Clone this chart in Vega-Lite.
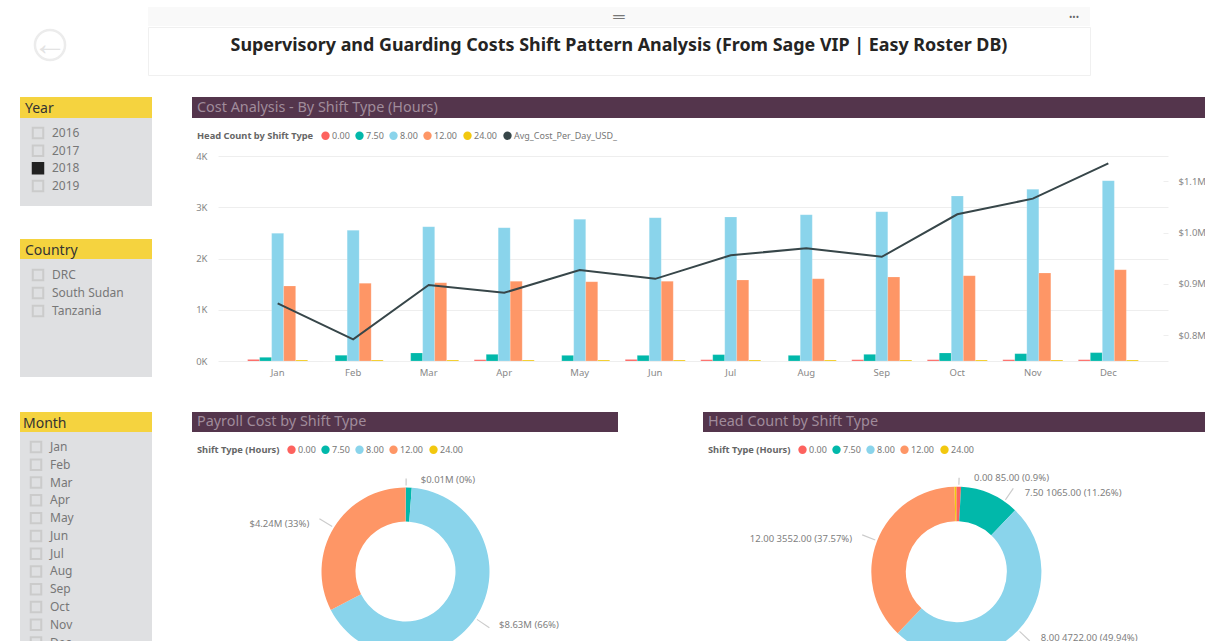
{
"$schema":"https://vega.github.io/schema/vega-lite/v6.json",
"padding":0,
"background":"#ffffff",
"config":{"view":{"stroke":null},"font":"Noto Sans","text":{"font":"Noto Sans"}},
"datasets":{
"heads":[
{"month":"Jan","shift":"0.00","count":30},{"month":"Jan","shift":"7.50","count":72},{"month":"Jan","shift":"8.00","count":2491},{"month":"Jan","shift":"12.00","count":1463},{"month":"Jan","shift":"24.00","count":20},
{"month":"Feb","shift":"0.00","count":0},{"month":"Feb","shift":"7.50","count":110},{"month":"Feb","shift":"8.00","count":2550},{"month":"Feb","shift":"12.00","count":1515},{"month":"Feb","shift":"24.00","count":20},
{"month":"Mar","shift":"0.00","count":0},{"month":"Mar","shift":"7.50","count":156},{"month":"Mar","shift":"8.00","count":2621},{"month":"Mar","shift":"12.00","count":1528},{"month":"Mar","shift":"24.00","count":20},
{"month":"Apr","shift":"0.00","count":25},{"month":"Apr","shift":"7.50","count":130},{"month":"Apr","shift":"8.00","count":2602},{"month":"Apr","shift":"12.00","count":1554},{"month":"Apr","shift":"24.00","count":20},
{"month":"May","shift":"0.00","count":0},{"month":"May","shift":"7.50","count":110},{"month":"May","shift":"8.00","count":2764},{"month":"May","shift":"12.00","count":1548},{"month":"May","shift":"24.00","count":20},
{"month":"Jun","shift":"0.00","count":30},{"month":"Jun","shift":"7.50","count":110},{"month":"Jun","shift":"8.00","count":2797},{"month":"Jun","shift":"12.00","count":1554},{"month":"Jun","shift":"24.00","count":20},
{"month":"Jul","shift":"0.00","count":25},{"month":"Jul","shift":"7.50","count":124},{"month":"Jul","shift":"8.00","count":2810},{"month":"Jul","shift":"12.00","count":1580},{"month":"Jul","shift":"24.00","count":20},
{"month":"Aug","shift":"0.00","count":0},{"month":"Aug","shift":"7.50","count":110},{"month":"Aug","shift":"8.00","count":2855},{"month":"Aug","shift":"12.00","count":1606},{"month":"Aug","shift":"24.00","count":20},
{"month":"Sep","shift":"0.00","count":25},{"month":"Sep","shift":"7.50","count":130},{"month":"Sep","shift":"8.00","count":2914},{"month":"Sep","shift":"12.00","count":1639},{"month":"Sep","shift":"24.00","count":20},
{"month":"Oct","shift":"0.00","count":25},{"month":"Oct","shift":"7.50","count":156},{"month":"Oct","shift":"8.00","count":3219},{"month":"Oct","shift":"12.00","count":1665},{"month":"Oct","shift":"24.00","count":20},
{"month":"Nov","shift":"0.00","count":25},{"month":"Nov","shift":"7.50","count":143},{"month":"Nov","shift":"8.00","count":3350},{"month":"Nov","shift":"12.00","count":1717},{"month":"Nov","shift":"24.00","count":20},
{"month":"Dec","shift":"0.00","count":25},{"month":"Dec","shift":"7.50","count":163},{"month":"Dec","shift":"8.00","count":3519},{"month":"Dec","shift":"12.00","count":1782},{"month":"Dec","shift":"24.00","count":20}
],
"cost":[
{"month":"Jan","usd":862300},{"month":"Feb","usd":792200},{"month":"Mar","usd":898000},{"month":"Apr","usd":883000},{"month":"May","usd":927000},{"month":"Jun","usd":910000},{"month":"Jul","usd":956000},{"month":"Aug","usd":969500},{"month":"Sep","usd":953000},{"month":"Oct","usd":1035700},{"month":"Nov","usd":1066300},{"month":"Dec","usd":1135000}
],
"payroll":[
{"shift":"0.00","hours":0,"value":0.01,"label":"$0.01M (0%)"},
{"shift":"7.50","hours":7.5,"value":0.145,"label":""},
{"shift":"8.00","hours":8,"value":8.63,"label":"$8.63M (66%)"},
{"shift":"12.00","hours":12,"value":4.24,"label":"$4.24M (33%)"},
{"shift":"24.00","hours":24,"value":0.001,"label":""}
],
"headcount":[
{"shift":"0.00","hours":0,"value":85,"label":"0.00 85.00 (0.9%)"},
{"shift":"7.50","hours":7.5,"value":1065,"label":"7.50 1065.00 (11.26%)"},
{"shift":"8.00","hours":8,"value":4722,"label":"8.00 4722.00 (49.94%)"},
{"shift":"12.00","hours":12,"value":3552,"label":"12.00 3552.00 (37.57%)"},
{"shift":"24.00","hours":24,"value":31,"label":""}
]
},
"spacing":7,
"resolve":{"scale":{"color":"independent","theta":"independent"},"legend":{"color":"independent"}},
"vconcat":[
{"hconcat":[
 {"width":100,"height":90,"data":{"values":[{"glyph":"←"}]},"layer":[
  {"mark":{"type":"point","shape":"circle","size":908,"filled":false,"opacity":1,"stroke":"#ececec","strokeWidth":2.5}},
  {"mark":{"type":"text","fontSize":34,"color":"#e3e3e3","align":"center","baseline":"middle"},"encoding":{"text":{"field":"glyph"}}}
 ]},
 {"spacing":0,"vconcat":[
  {"width":942,"height":7,"data":{"values":[{}]},"mark":{"type":"point","size":0,"strokeWidth":0,"opacity":0}},
  {"width":942,"height":19,"view":{"fill":"#f9f9f9"},"data":{"values":[{"handle":"═","dots":"•••"}]},"layer":[
   {"mark":{"type":"text","fontSize":16,"color":"#777777","align":"center","baseline":"middle"},"encoding":{"text":{"field":"handle"}}},
   {"mark":{"type":"text","fontSize":9,"color":"#666666","align":"center","baseline":"middle"},"encoding":{"text":{"field":"dots"},"x":{"datum":926,"type":"quantitative","scale":{"domain":[0,942],"nice":false},"axis":null}}}
  ]},
  {"width":942,"height":48,"view":{"fill":"#ffffff","stroke":"#f0f0f0"},"data":{"values":[{"title":"Supervisory and Guarding Costs Shift Pattern Analysis (From Sage VIP | Easy Roster DB)"}]},
   "mark":{"type":"text","fontSize":17.9,"fontWeight":"bold","color":"#252423","align":"center","baseline":"middle","dy":-5},"encoding":{"text":{"field":"title"}}}
 ]}
],"spacing":47},
{"spacing":0,
 "resolve":{"scale":{"color":"independent","theta":"independent"},"legend":{"color":"independent"}},
 "hconcat":[
 {"width":20,"height":1,"data":{"values":[{}]},"mark":{"type":"point","size":0,"strokeWidth":0,"opacity":0}},
 {"spacing":0,"vconcat":[
  {"width":132,"height":21,"view":{"fill":"#f5d33f"},"data":{"values":[{"t":"Year"}]},"mark":{"type":"text","fontSize":14,"color":"#333333","align":"left","baseline":"middle","dy":1},"encoding":{"text":{"field":"t"},"x":{"datum":5,"type":"quantitative","scale":{"domain":[0,132],"nice":false},"axis":null}}},
  {"width":132,"height":88,"view":{"fill":"#dfe0e2"},"data":{"values":[{"item":"2016","selected":false},{"item":"2017","selected":false},{"item":"2018","selected":true},{"item":"2019","selected":false}]},
   "encoding":{"y":{"field":"item","type":"ordinal","axis":null,"sort":null,"scale":{"type":"point","padding":0,"domain":["2016","2017","2018","2019"],"range":[15,68]}}},
   "layer":[
    {"mark":{"type":"point","shape":"square","size":110,"filled":true,"opacity":1,"strokeWidth":2},"encoding":{"x":{"datum":18,"type":"quantitative","scale":{"domain":[0,132],"nice":false},"axis":null},"fill":{"condition":{"test":"datum.selected","value":"#222222"},"value":"#dfe0e2"},"stroke":{"condition":{"test":"datum.selected","value":"#222222"},"value":"#cbcbcb"}}},
    {"mark":{"type":"text","fontSize":12,"color":"#777777","align":"left","baseline":"middle"},"encoding":{"x":{"datum":32,"type":"quantitative","scale":{"domain":[0,132],"nice":false},"axis":null},"text":{"field":"item"}}}
   ]},
  {"width":132,"height":33,"data":{"values":[{}]},"mark":{"type":"point","size":0,"strokeWidth":0,"opacity":0}},
  {"width":132,"height":20,"view":{"fill":"#f5d33f"},"data":{"values":[{"t":"Country"}]},"mark":{"type":"text","fontSize":14,"color":"#333333","align":"left","baseline":"middle","dy":1.5},"encoding":{"text":{"field":"t"},"x":{"datum":5,"type":"quantitative","scale":{"domain":[0,132],"nice":false},"axis":null}}},
  {"width":132,"height":118,"view":{"fill":"#dfe0e2"},"data":{"values":[{"item":"DRC","selected":false},{"item":"South Sudan","selected":false},{"item":"Tanzania","selected":false}]},
   "encoding":{"y":{"field":"item","type":"ordinal","axis":null,"sort":null,"scale":{"type":"point","padding":0,"domain":["DRC","South Sudan","Tanzania"],"range":[16,52]}}},
   "layer":[
    {"mark":{"type":"point","shape":"square","size":110,"filled":true,"opacity":1,"strokeWidth":2},"encoding":{"x":{"datum":18,"type":"quantitative","scale":{"domain":[0,132],"nice":false},"axis":null},"fill":{"value":"#dfe0e2"},"stroke":{"value":"#cbcbcb"}}},
    {"mark":{"type":"text","fontSize":12,"color":"#777777","align":"left","baseline":"middle"},"encoding":{"x":{"datum":32,"type":"quantitative","scale":{"domain":[0,132],"nice":false},"axis":null},"text":{"field":"item"}}}
   ]},
  {"width":132,"height":35,"data":{"values":[{}]},"mark":{"type":"point","size":0,"strokeWidth":0,"opacity":0}},
  {"width":132,"height":20,"view":{"fill":"#f5d33f"},"data":{"values":[{"t":"Month"}]},"mark":{"type":"text","fontSize":14,"color":"#333333","align":"left","baseline":"middle","dy":1.5},"encoding":{"text":{"field":"t"},"x":{"datum":3,"type":"quantitative","scale":{"domain":[0,132],"nice":false},"axis":null}}},
  {"width":132,"height":209,"view":{"fill":"#dfe0e2"},"data":{"values":[{"item":"Jan"},{"item":"Feb"},{"item":"Mar"},{"item":"Apr"},{"item":"May"},{"item":"Jun"},{"item":"Jul"},{"item":"Aug"},{"item":"Sep"},{"item":"Oct"},{"item":"Nov"},{"item":"Dec"}]},
   "encoding":{"y":{"field":"item","type":"ordinal","axis":null,"sort":null,"scale":{"type":"point","padding":0,"domain":["Jan","Feb","Mar","Apr","May","Jun","Jul","Aug","Sep","Oct","Nov","Dec"],"range":[15,210.6]}}},
   "layer":[
    {"mark":{"type":"point","shape":"square","size":110,"filled":true,"opacity":1,"strokeWidth":2,"clip":true},"encoding":{"x":{"datum":16,"type":"quantitative","scale":{"domain":[0,132],"nice":false},"axis":null},"fill":{"value":"#dfe0e2"},"stroke":{"value":"#cbcbcb"}}},
    {"mark":{"type":"text","fontSize":12,"color":"#777777","align":"left","baseline":"middle","clip":true},"encoding":{"x":{"datum":30,"type":"quantitative","scale":{"domain":[0,132],"nice":false},"axis":null},"text":{"field":"item"}}}
   ]}
 ]},
 {"width":40,"height":1,"data":{"values":[{}]},"mark":{"type":"point","size":0,"strokeWidth":0,"opacity":0}},
 {"spacing":0,
  "resolve":{"scale":{"color":"independent","theta":"independent"},"legend":{"color":"independent"}},
  "vconcat":[
  {"width":1013,"height":21,"view":{"fill":"#54354c"},"data":{"values":[{"t":"Cost Analysis - By Shift Type (Hours)"}]},"mark":{"type":"text","fontSize":14.4,"color":"#a08c9b","align":"left","baseline":"middle"},"encoding":{"text":{"field":"t"},"x":{"datum":5,"type":"quantitative","scale":{"domain":[0,1013],"nice":false},"axis":null}}},
  {"width":1013,"height":8,"data":{"values":[{}]},"mark":{"type":"point","size":0,"strokeWidth":0,"opacity":0}},
  {"bounds":"flush","spacing":0,
   "resolve":{"scale":{"color":"independent","theta":"independent"},"legend":{"color":"independent"}},
   "hconcat":[
   {"width":26,"height":1,"data":{"values":[{}]},"mark":{"type":"point","size":0,"strokeWidth":0,"opacity":0}},
   {"width":950,"height":205,
   "encoding":{"x":{"field":"month","type":"ordinal","sort":null,"title":null,"scale":{"domain":["Jan","Feb","Mar","Apr","May","Jun","Jul","Aug","Sep","Oct","Nov","Dec"],"paddingInner":0,"paddingOuter":0.29},"axis":{"domain":false,"ticks":false,"labelAngle":0,"labelColor":"#888888","labelFontSize":9.5,"labelPadding":6}}},
   "layer":[
    {"data":{"name":"heads"},"mark":{"type":"bar","stroke":"#ffffff","strokeOpacity":0.35,"strokeWidth":0.5},
     "encoding":{
      "xOffset":{"field":"shift","type":"nominal","sort":null,"scale":{"domain":["0.00","7.50","8.00","12.00","24.00"],"paddingInner":0,"paddingOuter":0.646}},
      "y":{"field":"count","type":"quantitative","stack":null,"title":null,"scale":{"domain":[0,4000],"nice":false},"axis":{"orient":"left","values":[0,1000,2000,3000,4000],"labelExpr":"datum.value/1000+'K'","domain":false,"ticks":false,"grid":true,"gridColor":"#eeeeee","labelColor":"#888888","labelFontSize":9.5,"labelPadding":11}},
      "color":{"field":"shift","type":"nominal","scale":{"domain":["0.00","7.50","8.00","12.00","24.00","Avg_Cost_Per_Day_USD_"],"range":["#FD625E","#01B8AA","#8AD4EB","#FE9666","#F2C80F","#374649"]},
       "legend":{"orient":"none","legendX":-26,"legendY":-30,"padding":5,"direction":"horizontal","columns":6,"title":"Head Count by Shift Type","titleOrient":"left","titleFontSize":9.3,"titleFontWeight":"bold","titleColor":"#666666","titlePadding":7,"labelFontSize":9,"labelColor":"#777777","labelOffset":2,"symbolType":"circle","symbolSize":70,"symbolStrokeWidth":0,"symbolOpacity":1,"columnPadding":5}}
     }},
    {"data":{"name":"cost"},"mark":{"type":"line","color":"#374649","strokeWidth":2},
     "encoding":{"y":{"field":"usd","type":"quantitative","title":null,"scale":{"domain":[750000,1149300],"nice":false,"zero":false},"axis":{"orient":"right","values":[800000,900000,1000000,1100000],"labelExpr":"'$'+format(datum.value/1000000,'.1f')+'M'","domain":false,"tickColor":"#eeeeee","tickSize":-5,"grid":false,"labelColor":"#888888","labelFontSize":9.5,"labelPadding":15}}}}
   ],
   "resolve":{"scale":{"y":"independent"}}
   }
  ]},
  {"width":1013,"height":35,"data":{"values":[{}]},"mark":{"type":"point","size":0,"strokeWidth":0,"opacity":0}},
  {"spacing":85,
   "resolve":{"scale":{"color":"independent","theta":"independent"},"legend":{"color":"independent"}},
   "hconcat":[
   {"spacing":0,
    "resolve":{"scale":{"color":"independent","theta":"independent"},"legend":{"color":"independent"}},
    "vconcat":[
    {"width":426,"height":20,"view":{"fill":"#54354c"},"data":{"values":[{"t":"Payroll Cost by Shift Type"}]},"mark":{"type":"text","fontSize":14.4,"color":"#a08c9b","align":"left","baseline":"middle"},"encoding":{"text":{"field":"t"},"x":{"datum":5,"type":"quantitative","scale":{"domain":[0,426],"nice":false},"axis":null}}},
    {"width":426,"height":209,"data":{"name":"payroll"},
     "encoding":{
      "x":{"datum":0,"type":"quantitative","scale":{"domain":[-213.5,212.5],"nice":false,"zero":false},"axis":null},
      "y":{"datum":0,"type":"quantitative","scale":{"domain":[-69.5,139.5],"nice":false,"zero":false},"axis":null}
     },
     "layer":[
      {"mark":{"type":"arc","radius":84,"radius2":50,"clip":true},"encoding":{"theta":{"field":"value","type":"quantitative","stack":true},"order":{"field":"hours","type":"quantitative"},
       "color":{"field":"shift","type":"nominal","scale":{"domain":["0.00","7.50","8.00","12.00","24.00"],"range":["#FD625E","#01B8AA","#8AD4EB","#FE9666","#F2C80F"]},
        "legend":{"orient":"none","legendX":5,"legendY":13,"direction":"horizontal","columns":5,"title":"Shift Type (Hours)","titleOrient":"left","titleFontSize":9.3,"titleFontWeight":"bold","titleColor":"#666666","titlePadding":7,"labelFontSize":9,"labelColor":"#777777","labelOffset":2,"symbolType":"circle","symbolSize":70,"symbolStrokeWidth":0,"symbolOpacity":1,"columnPadding":5}}}},
      {"data":{"values":[{"deg":123.5,"deg2":124.2},{"deg":301.2,"deg2":301.9}]},"mark":{"type":"arc","radius":101,"radius2":86,"color":"#cccccc","clip":true},"encoding":{"theta":{"field":"deg","type":"quantitative","scale":{"domain":[0,360],"nice":false}},"theta2":{"field":"deg2"}}},
      {"data":{"values":[{"deg":0,"deg2":0.8}]},"mark":{"type":"arc","radius":93,"radius2":86,"color":"#cccccc","clip":true},"encoding":{"theta":{"field":"deg","type":"quantitative","scale":{"domain":[0,360],"nice":false}},"theta2":{"field":"deg2"}}},
      {"mark":{"type":"text","radius":92,"align":"left","baseline":"middle","dx":15,"fontSize":9.5,"color":"#808080"},"encoding":{"theta":{"field":"value","type":"quantitative","stack":true},"order":{"field":"hours","type":"quantitative"},"detail":{"field":"shift"},"text":{"condition":{"test":"datum.hours===0","field":"label","type":"nominal"},"value":""}}},
      {"mark":{"type":"text","radius":108,"align":"left","baseline":"middle","dx":3.5,"dy":-6,"fontSize":9.5,"color":"#808080","clip":true},"encoding":{"theta":{"field":"value","type":"quantitative","stack":true},"order":{"field":"hours","type":"quantitative"},"detail":{"field":"shift"},"text":{"condition":{"test":"datum.hours===8","field":"label","type":"nominal"},"value":""}}},
      {"mark":{"type":"text","radius":108,"align":"right","baseline":"middle","dx":-4,"dy":8.7,"fontSize":9.5,"color":"#808080"},"encoding":{"theta":{"field":"value","type":"quantitative","stack":true},"order":{"field":"hours","type":"quantitative"},"detail":{"field":"shift"},"text":{"condition":{"test":"datum.hours===12","field":"label","type":"nominal"},"value":""}}}
     ],
     "resolve":{"scale":{"theta":"independent"}}
    }
   ]},
   {"spacing":0,
    "resolve":{"scale":{"color":"independent","theta":"independent"},"legend":{"color":"independent"}},
    "vconcat":[
    {"width":502,"height":20,"view":{"fill":"#54354c"},"data":{"values":[{"t":"Head Count by Shift Type"}]},"mark":{"type":"text","fontSize":14.4,"color":"#a08c9b","align":"left","baseline":"middle"},"encoding":{"text":{"field":"t"},"x":{"datum":5,"type":"quantitative","scale":{"domain":[0,502],"nice":false},"axis":null}}},
    {"width":502,"height":209,"data":{"name":"headcount"},
     "encoding":{
      "x":{"datum":0,"type":"quantitative","scale":{"domain":[-253.3,248.7],"nice":false,"zero":false},"axis":null},
      "y":{"datum":0,"type":"quantitative","scale":{"domain":[-69.3,139.7],"nice":false,"zero":false},"axis":null}
     },
     "layer":[
      {"mark":{"type":"arc","radius":85,"radius2":50.5,"clip":true},"encoding":{"theta":{"field":"value","type":"quantitative","stack":true},"order":{"field":"hours","type":"quantitative"},
       "color":{"field":"shift","type":"nominal","scale":{"domain":["0.00","7.50","8.00","12.00","24.00"],"range":["#FD625E","#01B8AA","#8AD4EB","#FE9666","#F2C80F"]},
        "legend":{"orient":"none","legendX":5,"legendY":13,"direction":"horizontal","columns":5,"title":"Shift Type (Hours)","titleOrient":"left","titleFontSize":9.3,"titleFontWeight":"bold","titleColor":"#666666","titlePadding":7,"labelFontSize":9,"labelColor":"#777777","labelOffset":2,"symbolType":"circle","symbolSize":70,"symbolStrokeWidth":0,"symbolOpacity":1,"columnPadding":5}}}},
      {"data":{"values":[{"deg":34,"deg2":34.7},{"deg":133,"deg2":133.7},{"deg":291,"deg2":291.7}]},"mark":{"type":"arc","radius":101,"radius2":87,"color":"#cccccc","clip":true},"encoding":{"theta":{"field":"deg","type":"quantitative","scale":{"domain":[0,360],"nice":false}},"theta2":{"field":"deg2"}}},
      {"data":{"values":[{"deg":1.3,"deg2":2.1}]},"mark":{"type":"arc","radius":94,"radius2":87,"color":"#cccccc","clip":true},"encoding":{"theta":{"field":"deg","type":"quantitative","scale":{"domain":[0,360],"nice":false}},"theta2":{"field":"deg2"}}},
      {"mark":{"type":"text","radius":94,"align":"left","baseline":"middle","dx":15,"fontSize":9.5,"color":"#808080"},"encoding":{"theta":{"field":"value","type":"quantitative","stack":true},"order":{"field":"hours","type":"quantitative"},"detail":{"field":"shift"},"text":{"condition":{"test":"datum.hours===0","field":"label","type":"nominal"},"value":""}}},
      {"mark":{"type":"text","radius":105,"align":"left","baseline":"middle","dx":26.5,"dy":18,"fontSize":9.5,"color":"#808080"},"encoding":{"theta":{"field":"value","type":"quantitative","stack":true},"order":{"field":"hours","type":"quantitative"},"detail":{"field":"shift"},"text":{"condition":{"test":"datum.hours===7.5","field":"label","type":"nominal"},"value":""}}},
      {"mark":{"type":"text","radius":115,"align":"left","baseline":"middle","dx":1.3,"dy":-12.8,"fontSize":9.5,"color":"#808080","clip":true},"encoding":{"theta":{"field":"value","type":"quantitative","stack":true},"order":{"field":"hours","type":"quantitative"},"detail":{"field":"shift"},"text":{"condition":{"test":"datum.hours===8","field":"label","type":"nominal"},"value":""}}},
      {"mark":{"type":"text","radius":115,"align":"right","baseline":"middle","dx":3,"dy":8.7,"fontSize":9.5,"color":"#808080"},"encoding":{"theta":{"field":"value","type":"quantitative","stack":true},"order":{"field":"hours","type":"quantitative"},"detail":{"field":"shift"},"text":{"condition":{"test":"datum.hours===12","field":"label","type":"nominal"},"value":""}}}
     ],
     "resolve":{"scale":{"theta":"independent"}}
    }
   ]}
  ]}
 ]}
]}
]
}
